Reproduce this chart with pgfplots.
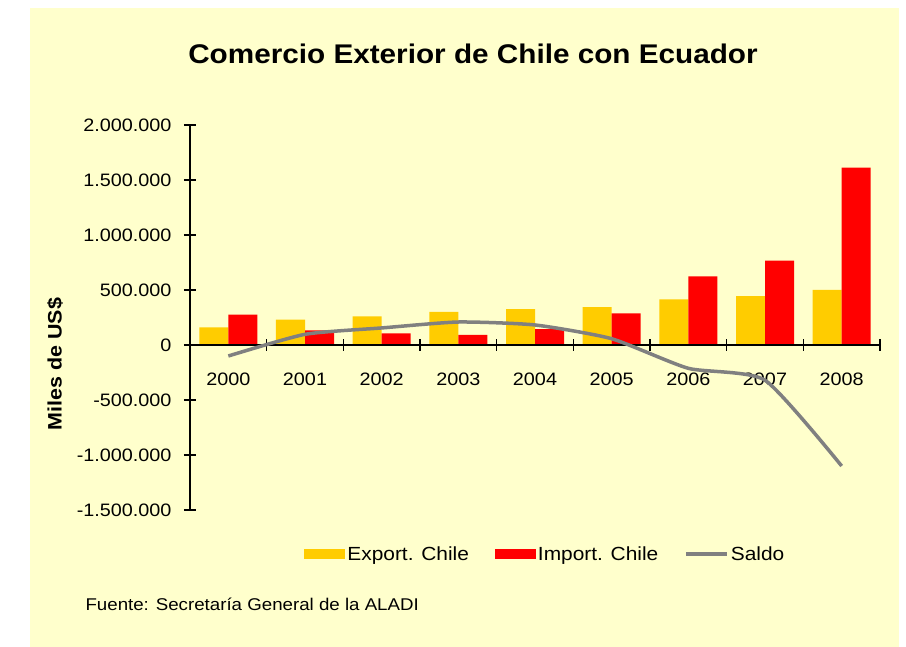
\documentclass[border=0pt]{standalone}
\usepackage{pgfplots}
\pgfplotsset{compat=1.18}
\usepackage{fontspec}
\setmainfont{Liberation Sans}[FakeStretch=1.1]
\definecolor{bg}{HTML}{FFFFCC}
\definecolor{expc}{HTML}{FFCC00}
\definecolor{impc}{HTML}{FF0000}
\definecolor{saldoc}{HTML}{808080}

\begin{document}
\begin{tikzpicture}[x=1pt,y=1pt]
\fill[white] (0,0) rectangle (906,647);
\fill[bg] (30,0) rectangle (899,639);
\node[font=\bfseries\fontsize{27}{31}\selectfont] at (473,593) {Comercio Exterior de Chile con Ecuador};
\node[font=\bfseries\fontsize{19.5}{23}\selectfont, rotate=90] at (55,283) {Miles de US\$};
\node[font=\fontsize{17}{20}\selectfont, anchor=west] at (82,43) {Fuente: Secretaría General de la ALADI};
\begin{axis}[
  at={(190pt,137pt)}, anchor=south west,
  scale only axis, width=690pt, height=385pt,
  xmin=-0.5, xmax=8.5, ymin=-1500000, ymax=2000000,
  axis y line=left, axis x line=middle,
  axis line style={-, line width=1.6pt, black},
  tick align=center,
  major tick length=12pt, minor tick length=12pt,
  xtick={0,...,8},
  xticklabels={2000,2001,2002,2003,2004,2005,2006,2007,2008},
  major x tick style={draw=none},
  minor xtick={-0.5,0.5,...,8.5},
  minor x tick style={line width=1.5pt, black},
  y tick style={line width=1.5pt, black},
  ytick={-1500000,-1000000,-500000,0,500000,1000000,1500000,2000000},
  yticklabels={-1.500.000,-1.000.000,-500.000,0,500.000,1.000.000,1.500.000,2.000.000},
  scaled y ticks=false,
  ticklabel style={font=\fontsize{18}{22}\selectfont},
  xticklabel style={yshift=-18pt},
  yticklabel style={xshift=-9pt},
  legend style={at={(axis description cs:0.515,-0.114)}, anchor=center, draw=none, fill=none,
    font=\fontsize{19}{22}\selectfont,
    /tikz/every even column/.append style={column sep=24pt}},
  legend columns=3,
  legend cell align=left,
]
\addplot[ybar, bar width=29pt, bar shift=-14.5pt, fill=expc, draw=none,
  legend image code/.code={\fill[expc] (0pt,-5pt) rectangle (41pt,5pt);}]
  coordinates {(0,161000) (1,230000) (2,261000) (3,300000) (4,327000) (5,345000) (6,415000) (7,445000) (8,500000)};
\addlegendentry{Export. Chile}
\addplot[ybar, bar width=29pt, bar shift=14.5pt, fill=impc, draw=none,
  legend image code/.code={\fill[impc] (0pt,-5pt) rectangle (41pt,5pt);}]
  coordinates {(0,275000) (1,133000) (2,106000) (3,91000) (4,145000) (5,288000) (6,624000) (7,767000) (8,1612000)};
\addlegendentry{Import. Chile}
\draw[line width=1.6pt] (axis cs:-0.5,0) -- (axis cs:8.5,0);
\addplot[smooth, tension=0.35, no marks, color=saldoc, line width=3.5pt,
  legend image code/.code={\draw[saldoc, line width=3.5pt] (0pt,0pt) -- (41pt,0pt);}]
  coordinates {(0,-100000) (1,97000) (2,155000) (3,209000) (4,182000) (5,57000) (6,-212000) (7,-320000) (8,-1100000)};
\addlegendentry{Saldo}
\end{axis}
\end{tikzpicture}
\end{document}
